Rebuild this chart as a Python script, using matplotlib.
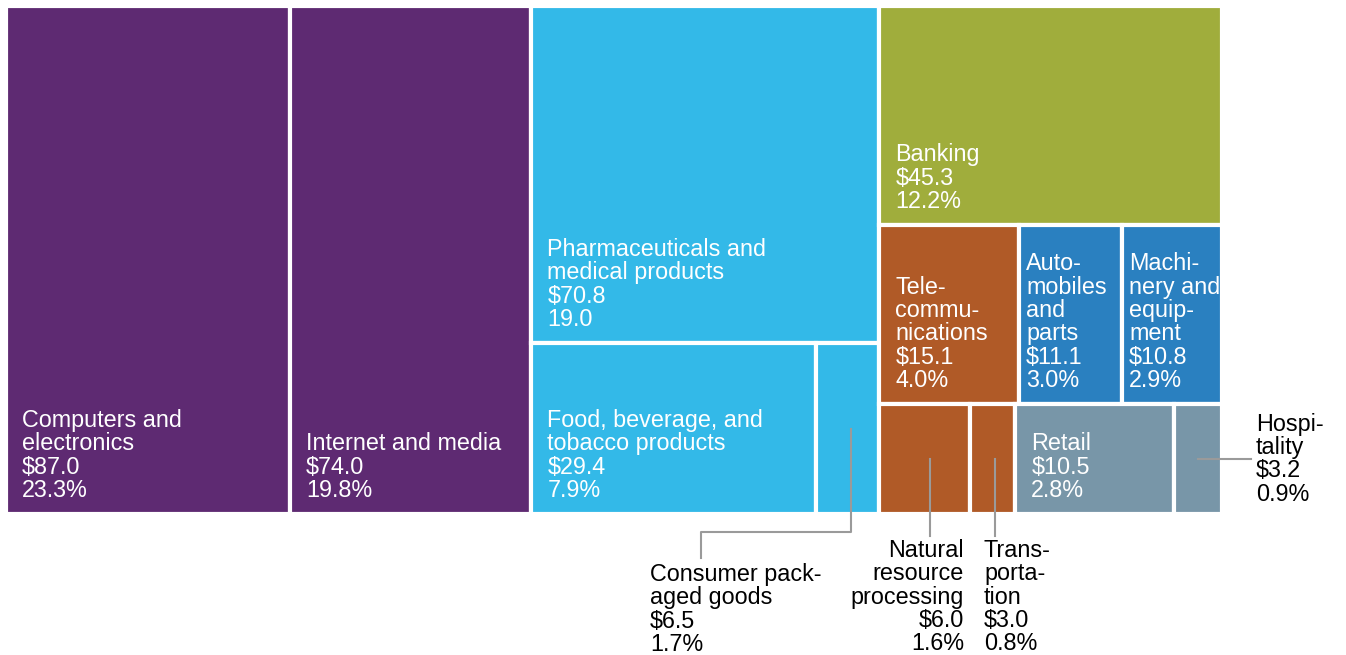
import matplotlib.pyplot as plt
from matplotlib.patches import Rectangle

plt.rcParams['font.family'] = ['Liberation Sans', 'DejaVu Sans']

# sector data ($ billions, share of total)
names = ["Computers and\nelectronics", "Internet and media",
         "Pharmaceuticals and\nmedical products", "Food, beverage, and\ntobacco products",
         "Consumer pack-\naged goods", "Banking", "Tele-\ncommu-\nnications",
         "Auto-\nmobiles\nand\nparts", "Machi-\nnery and\nequip-\nment",
         "Natural\nresource\nprocessing", "Trans-\nporta-\ntion", "Retail",
         "Hospi-\ntality"]
values = [87.0, 74.0, 70.8, 29.4, 6.5, 45.3, 15.1, 11.1, 10.8, 6.0, 3.0, 10.5, 3.2]
shares = ["23.3%", "19.8%", "19.0", "7.9%", "1.7%", "12.2%", "4.0%", "3.0%",
          "2.9%", "1.6%", "0.8%", "2.8%", "0.9%"]
colors = ["#5e2a72", "#5e2a72", "#33b9e8", "#33b9e8", "#33b9e8", "#a0ad3c",
          "#b05a27", "#2a80c0", "#2a80c0", "#b05a27", "#b05a27", "#7896a8",
          "#7896a8"]

# nesting of the treemap: 'h' splits side by side, 'v' splits top to bottom
tree = ('h', [0, 1, ('v', [2, ('h', [3, 4])]),
              ('v', [5, ('h', [6, 7, 8]), ('h', [9, 10, 11, 12])])])

W, H = 1346, 655
fig = plt.figure(figsize=(W / 100, H / 100), dpi=100)
ax = fig.add_axes([0, 0, 1, 1])
ax.set_xlim(0, W)
ax.set_ylim(H, 0)
ax.axis('off')


def total(node):
    if isinstance(node, int):
        return values[node]
    return sum(total(c) for c in node[1])


rects = {}


def layout(node, x, y, w, h):
    if isinstance(node, int):
        rects[node] = (x, y, w, h)
        return
    kind, kids = node
    s = total(node)
    pos = 0.0
    for c in kids:
        f = total(c) / s
        if kind == 'h':
            layout(c, x + pos * w, y, f * w, h)
        else:
            layout(c, x, y + pos * h, w, f * h)
        pos += f


layout(tree, 6, 6, 1216, 508)

fs = 16.8
ls = 1.02


def label(i):
    return names[i] + "\n$%.1f\n" % values[i] + shares[i]


for i, (x, y, w, h) in rects.items():
    ax.add_patch(Rectangle((x, y), w, h, facecolor=colors[i], edgecolor='white', lw=3))

inside = [0, 1, 2, 3, 5, 6, 7, 8, 11]
for i in inside:
    x, y, w, h = rects[i]
    pad = 16 if w > 120 else 7
    ax.text(x + pad, y + h - 12, label(i), color='white', fontsize=fs,
            ha='left', va='bottom', linespacing=ls)

line_kw = dict(color='#9a9a9a', lw=1.5)

# Consumer packaged goods
x, y, w, h = rects[4]
cx, cy = x + w / 2 + 3, y + h / 2
ax.plot([cx, cx, 701, 701], [cy, 532, 532, 558], **line_kw)
ax.text(650, 563, label(4), color='black', fontsize=fs, ha='left', va='top',
        linespacing=ls)

# Natural resource processing
x, y, w, h = rects[9]
cx, cy = x + w / 2 + 5, y + h / 2
ax.plot([cx, cx], [cy, 536], **line_kw)
ax.text(964, 539, label(9), color='black', fontsize=fs, ha='right', va='top',
        linespacing=ls, multialignment='right')

# Transportation
x, y, w, h = rects[10]
cx, cy = x + w / 2 + 2, y + h / 2
ax.plot([cx, cx], [cy, 536], **line_kw)
ax.text(984, 539, label(10), color='black', fontsize=fs, ha='left', va='top',
        linespacing=ls)

# Hospitality
x, y, w, h = rects[12]
cx, cy = x + w / 2, y + h / 2
ax.plot([cx, 1251], [cy, cy], **line_kw)
ax.text(1256, cy, label(12), color='black', fontsize=fs, ha='left', va='center',
        linespacing=ls)

plt.savefig('out.png', dpi=100)
